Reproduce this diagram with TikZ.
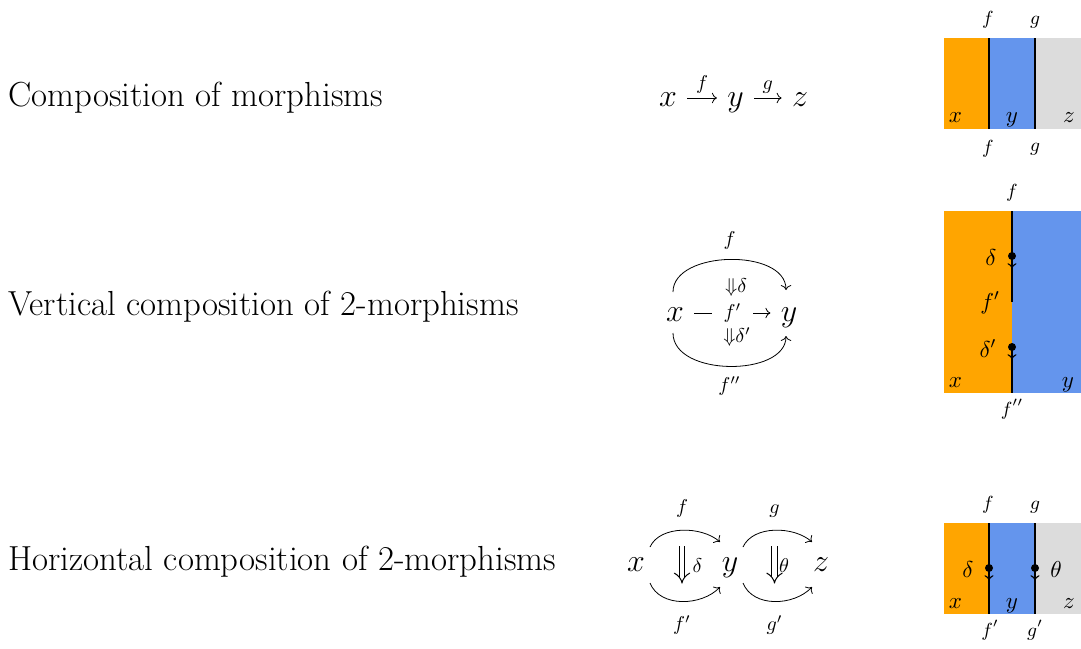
\documentclass[tikz,border=0pt]{standalone}
\usepackage{fix-cm}
\usetikzlibrary{calc, arrows.meta}
\definecolor{orng}{HTML}{FFA500}
\definecolor{cblue}{HTML}{6495ED}
\definecolor{lgray}{HTML}{DCDCDC}
\tikzset{
    txt/.style={anchor=base west, inner sep=0pt, font=\fontsize{17.4}{21}\selectfont},
    obj/.style={font=\fontsize{16}{19}\selectfont, inner sep=5pt, text height=10pt, text depth=2pt},
    lbl/.style={font=\fontsize{10}{12}\selectfont, inner sep=1pt},
    twocell/.style={line width=0.5pt, double, double distance=2.4pt, -{Implies}},
    wire/.style={line width=0.7pt},
    wlbl/.style={anchor=base, inner sep=0pt, font=\fontsize{9.5}{11}\selectfont},
    rlbl/.style={anchor=base, inner sep=0pt, font=\fontsize{11.5}{13}\selectfont},
}

\begin{document}
\begin{tikzpicture}[x=0.5pt, y=-0.5pt]

\useasboundingbox (0,0) rectangle (1081,648);

% Beschriftungen links
\node[txt] (t1) at (8,106) {Composition of morphisms};
\node[txt] (t2) at (8,315) {Vertical composition of 2-morphisms};
\node[txt] (t3) at (8,570) {Horizontal composition of 2-morphisms};

% Zeile 1: x -> y -> z
\node[obj] (x1) at (668,98) {$x$};
\node[obj] (y1) at (735.5,98) {$y$};
\node[obj] (z1) at (800,98) {$z$};
\draw[->] (x1) -- node[lbl, above=1pt] {$f$} (y1);
\draw[->] (y1) -- node[lbl, above=1pt] {$g$} (z1);

% Zeile 2: vertikale Komposition
\node[obj] (x2) at (675,313) {$x$};
\node[obj] (y2) at (789,313) {$y$};
\draw[->] (x2) -- node[lbl, fill=white, inner xsep=6pt] {$f'$} (y2);
\draw[->] ($(x2)+(-2,-21)$) .. controls +(0,-42) and +(0,-42) .. ($(y2)+(-3,-23)$)
    node[lbl, pos=.5, above=4pt] {$f$};
\draw[->] ($(x2)+(-2,20)$) .. controls +(0,44) and +(0,41) .. ($(y2)+(-3,23)$)
    node[lbl, pos=.5, below=4pt] {$f''$};
\node[lbl] (a2) at (736,287) {${\Downarrow}\delta$};
\node[lbl] (b2) at (737,337) {${\Downarrow}\delta'$};

% Zeile 3: horizontale Komposition
\node[obj] (x3) at (636,563) {$x$};
\node[obj] (y3) at (730,563) {$y$};
\node[obj] (z3) at (821,563) {$z$};
\draw[->] ($(x3)+(14,-16)$) .. controls +(10,-22) and +(-18,-16) .. ($(y3)+(-10,-21)$)
    coordinate[pos=.5] (fm) node[lbl, pos=.5, above=5pt] {$f$};
\draw[->] ($(x3)+(14,20)$) .. controls +(10,25) and +(-18,19) .. ($(y3)+(-10,24)$)
    coordinate[pos=.5] (fpm) node[lbl, pos=.5, below=6pt] {$f'$};
\draw[->] ($(y3)+(13,-16)$) .. controls +(10,-22) and +(-18,-16) .. ($(z3)+(-9,-21)$)
    coordinate[pos=.5] (gm) node[lbl, pos=.5, above=5pt] {$g$};
\draw[->] ($(y3)+(13,20)$) .. controls +(10,25) and +(-18,19) .. ($(z3)+(-9,24)$)
    coordinate[pos=.5] (gpm) node[lbl, pos=.5, below=6pt] {$g'$};
\draw[twocell, shorten <=8pt, shorten >=9pt] (fm) -- node[lbl, right=4pt] {$\delta$} (fpm);
\draw[twocell, shorten <=8pt, shorten >=9pt] (gm) -- node[lbl, right=1pt] {$\theta$} (gpm);

% Stringdiagramm 1
\fill[orng] (944,38) rectangle (989,129);
\fill[cblue] (989,38) rectangle (1035,129);
\fill[lgray] (1035,38) rectangle (1081,129);
\draw[wire] (989,38) -- (989,129);
\draw[wire] (1035,38) -- (1035,129);
\node[wlbl] at (988,25) {$f$};
\node[wlbl] at (1035,25) {$g$};
\node[wlbl] at (988,153) {$f$};
\node[wlbl] at (1035,151) {$g$};
\node[rlbl] at (955.5,122) {$x$};
\node[rlbl] at (1012,122) {$y$};
\node[rlbl] at (1069,122) {$z$};

% Stringdiagramm 2
\fill[orng] (944,211) rectangle (1012,393);
\fill[cblue] (1012,211) rectangle (1081,393);
\coordinate (d1) at (1012,256);
\coordinate (d2) at (1012,347);
\draw[wire] (1012,211) -- (1012,302);
\draw[wire] (d2) -- (1012,393);
\draw[wire, -to] (d1) -- ++(0,12);
\draw[wire, -to] (d2) -- ++(0,12);
\fill (d1) circle (2pt);
\fill (d2) circle (2pt);
\node[wlbl] at (1012,197) {$f$};
\node[wlbl] at (1012,415) {$f''$};
\node[rlbl] at (991,265) {$\delta$};
\node[rlbl] at (990,309) {$f'$};
\node[rlbl] at (988,357) {$\delta'$};
\node[rlbl] at (955.5,387) {$x$};
\node[rlbl] at (1068,387) {$y$};

% Stringdiagramm 3
\fill[orng] (944,523) rectangle (989,614);
\fill[cblue] (989,523) rectangle (1035,614);
\fill[lgray] (1035,523) rectangle (1081,614);
\coordinate (e1) at (989,568);
\coordinate (e2) at (1035,568);
\draw[wire] (989,523) -- (989,614);
\draw[wire] (1035,523) -- (1035,614);
\draw[wire, -to] (e1) -- ++(0,12);
\draw[wire, -to] (e2) -- ++(0,12);
\fill (e1) circle (2pt);
\fill (e2) circle (2pt);
\node[wlbl] at (988,509) {$f$};
\node[wlbl] at (1035,509) {$g$};
\node[wlbl] at (990,636) {$f'$};
\node[wlbl] at (1035,636) {$g'$};
\node[rlbl] at (968,577) {$\delta$};
\node[rlbl] at (1056,577) {$\theta$};
\node[rlbl] at (955.5,608) {$x$};
\node[rlbl] at (1012,608) {$y$};
\node[rlbl] at (1069,608) {$z$};

\end{tikzpicture}
\end{document}
